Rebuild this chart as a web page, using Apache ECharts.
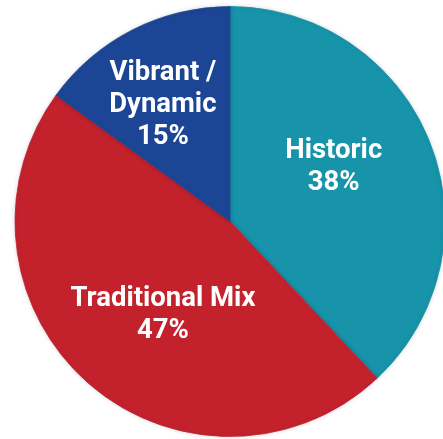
<!DOCTYPE html>
<html>
<head>
<meta charset="utf-8">
<script src="https://cdn.jsdelivr.net/npm/echarts@6/dist/echarts.min.js"></script>
<style>
html,body{margin:0;padding:0;background:#fff;}
#chart{width:443px;height:439px;}
</style>
</head>
<body>
<div id="chart"></div>
<script>
const categories = ['Historic', 'Traditional Mix', 'Vibrant /\nDynamic'];
const values = [38, 47, 15];
const colors = ['#1793aa', '#c3222d', '#1c4695'];
const labelOffsets = [[1, -14], [6, 11], [-17, -18]];

const chart = echarts.init(document.getElementById('chart'), null, {renderer: 'canvas'});
chart.setOption({
  animation: false,
  backgroundColor: '#ffffff',
  series: [{
    type: 'pie',
    center: [230, 221.5],
    radius: [0, 215],
    startAngle: 90,
    clockwise: true,
    silent: true,
    itemStyle: {
      borderWidth: 0.8,
      shadowBlur: 4,
      shadowColor: 'rgba(0,0,0,0.15)'
    },
    label: {
      show: true,
      position: 'inside',
      formatter: '{b}\n{c}%',
      color: '#ffffff',
      fontFamily: 'Roboto',
      fontWeight: 'bold',
      fontSize: 27.5,
      lineHeight: 32,
      align: 'center'
    },
    labelLine: {show: false},
    data: categories.map((c, i) => ({
      name: c,
      value: values[i],
      itemStyle: {color: colors[i], borderColor: colors[i]},
      label: {offset: labelOffsets[i]}
    }))
  }]
});
</script>
</body>
</html>
